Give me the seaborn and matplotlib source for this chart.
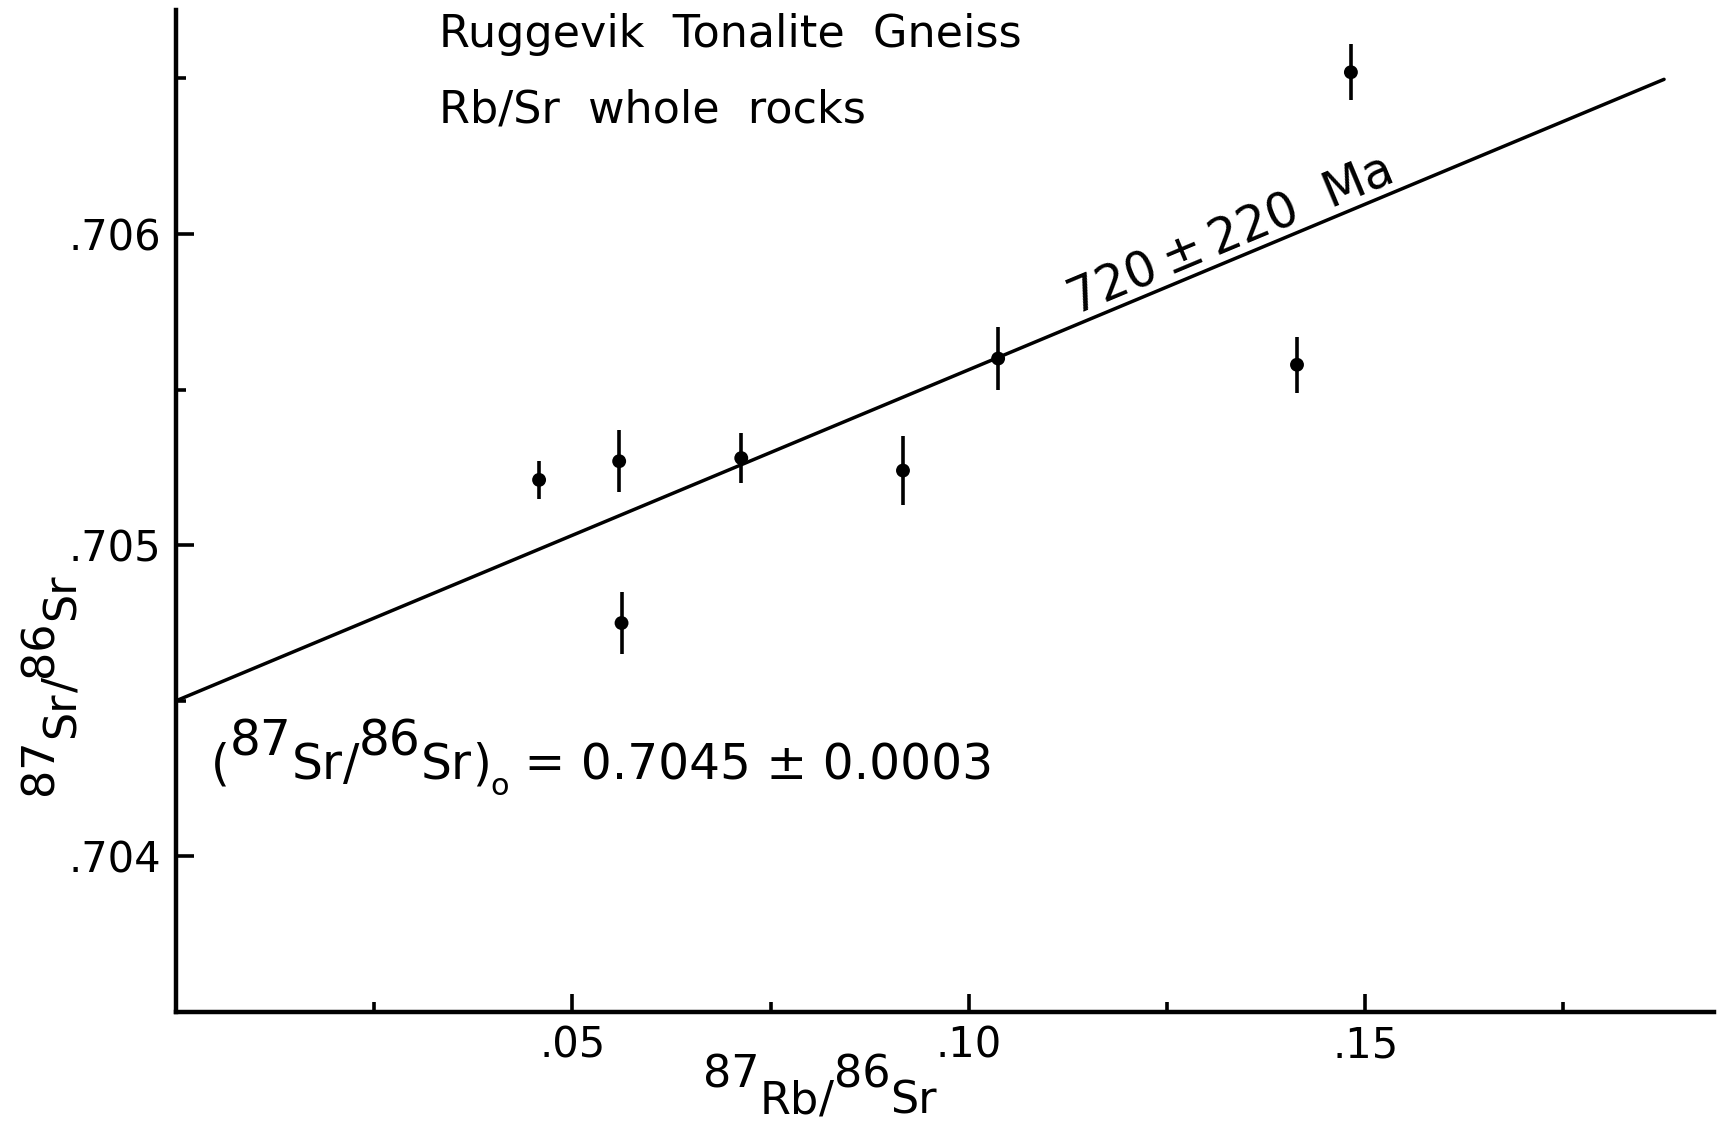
import numpy as np
import pandas as pd
import matplotlib
matplotlib.use("Agg")
import matplotlib.pyplot as plt
import matplotlib.transforms as mtransforms
import seaborn as sns

# Whole-rock isotope ratios (87Rb/86Sr, 87Sr/86Sr) with 1-sigma on 87Sr/86Sr
rb_sr = [0.0458, 0.0559, 0.0562, 0.0713, 0.0917, 0.1037, 0.1414, 0.1482]
sr_sr = [0.70521, 0.70527, 0.70475, 0.70528, 0.70524, 0.70560, 0.70558, 0.70652]
sr_err = [0.00006, 0.00010, 0.00010, 0.00008, 0.00011, 0.00010, 0.00009, 0.00009]

# Isochron parameters
age_ma = 720
age_err_ma = 220
initial_ratio = 0.7045
initial_err = 0.0003
decay_const = 1.47e-11          # 87Rb decay constant, 1/yr
isochron_x = [0.0, 0.1877]      # span of the drawn isochron

x_major = [0.05, 0.10, 0.15]
x_major_labels = [".05", ".10", ".15"]
x_minor = [0.025, 0.075, 0.125, 0.175]
y_major = [0.704, 0.705, 0.706]
y_major_labels = [".704", ".705", ".706"]
y_minor = [0.7045, 0.7055, 0.7065]

title_lines = ["Ruggevik  Tonalite  Gneiss", "Rb/Sr  whole  rocks"]

sns.set_style("ticks")
plt.rcParams["font.family"] = ["DejaVu Sans"]
for key in ("text.color", "axes.labelcolor", "axes.edgecolor",
            "xtick.color", "ytick.color"):
    plt.rcParams[key] = "black"

W, H, DPI = 1722, 1125, 100
fig = plt.figure(figsize=(W / DPI, H / DPI), dpi=DPI)
ax = fig.add_axes([176 / W, 1 - 1012 / H, (1714 - 176) / W, (1012 - 10) / H])
ax.set_xlim(0, 0.1940)
ax.set_ylim(0.7035, 0.70672)

# isochron from the stated age and initial ratio
slope = np.expm1(decay_const * age_ma * 1e6)
iso = pd.DataFrame({"x": isochron_x})
iso["y"] = initial_ratio + slope * iso["x"]
sns.lineplot(data=iso, x="x", y="y", ax=ax, color="black", linewidth=2.5)

# analyses
df = pd.DataFrame({"rb": rb_sr, "sr": sr_sr, "err": sr_err})
ax.errorbar(df["rb"], df["sr"], yerr=df["err"], fmt="none", ecolor="black",
            elinewidth=2.6, capsize=0)
sns.scatterplot(data=df, x="rb", y="sr", ax=ax, color="black", s=100,
                edgecolor="none", zorder=3)

# axes styling
for side in ("top", "right"):
    ax.spines[side].set_visible(False)
for side in ("left", "bottom"):
    ax.spines[side].set_linewidth(3.2)
ax.set_xticks(x_major)
ax.set_xticklabels(x_major_labels)
ax.set_xticks(x_minor, minor=True)
ax.set_yticks(y_major)
ax.set_yticklabels(y_major_labels)
ax.set_yticks(y_minor, minor=True)
ax.tick_params(which="major", direction="in", length=13, width=2.6,
               labelsize=30, pad=9)
ax.tick_params(which="minor", direction="in", length=7, width=2.6)
ax.tick_params(axis="y", which="major", pad=11)
ax.set_xlabel("")
ax.set_ylabel("")

px = mtransforms.IdentityTransform()


def chain(pieces, x0, y0, size, rotation=0):
    """Lay out text pieces one after another; each piece is (text, rise_px, size)."""
    first_txt, first_rise, first_size = pieces[0]
    if rotation == 90:
        prev = fig.text(x0 - first_rise, y0, first_txt, transform=px,
                        rotation=90, ha="right", va="bottom",
                        fontsize=first_size or size)
    else:
        prev = fig.text(x0, y0 + first_rise, first_txt, transform=px,
                        ha="left", va="bottom", fontsize=first_size or size)
    prev_rise = first_rise
    for txt, rise, psize in pieces[1:]:
        d = rise - prev_rise
        if rotation == 90:
            prev = ax.annotate(txt, xy=(1, 1), xycoords=prev,
                               xytext=(-d, 0), textcoords="offset pixels",
                               rotation=90, ha="right", va="bottom",
                               fontsize=psize or size, annotation_clip=False)
        else:
            prev = ax.annotate(txt, xy=(1, 0), xycoords=prev,
                               xytext=(0, d), textcoords="offset pixels",
                               ha="left", va="bottom",
                               fontsize=psize or size, annotation_clip=False)
        prev_rise = rise
    return prev


# axis titles with full-size raised mass numbers
chain([("87", 22, None), ("Sr", 0, None), ("/", 0, None),
       ("86", 22, None), ("Sr", 0, None)], 84, 330, 32, rotation=90)
chain([("87", 25, None), ("Rb", 0, None), ("/", 0, None),
       ("86", 25, None), ("Sr", 0, None)], 703, 3, 32)

# initial ratio
chain([("(", 0, None), ("87", 24, None), ("Sr", 0, None), ("/", 0, None),
       ("86", 24, None), ("Sr", 0, None), (")", 0, None), ("o", -12, 22),
       (f" = {initial_ratio:.4f} \u00b1 {initial_err:.4f}", 0, None)],
      211, 336, 35)

# title block
fig.text(439, 1125 - 47, title_lines[0], transform=px, fontsize=32,
         ha="left", va="baseline")
fig.text(439, 1125 - 122, title_lines[1], transform=px, fontsize=32,
         ha="left", va="baseline")

# age label along the isochron
fig.canvas.draw()
p0 = ax.transData.transform((0.0, initial_ratio))
p1 = ax.transData.transform((0.1, initial_ratio + slope * 0.1))
ang = np.degrees(np.arctan2(p1[1] - p0[1], p1[0] - p0[0]))
x_lab = 0.1140
off = 9
ax.annotate(f"{age_ma}\u2009\u00b1\u2009{age_err_ma}  Ma",
            xy=(x_lab, initial_ratio + slope * x_lab),
            xytext=(-off * np.sin(np.radians(ang)), off * np.cos(np.radians(ang))),
            textcoords="offset pixels", rotation=ang, rotation_mode="anchor",
            ha="left", va="baseline", fontsize=35)

fig.savefig("out.png", dpi=DPI)
